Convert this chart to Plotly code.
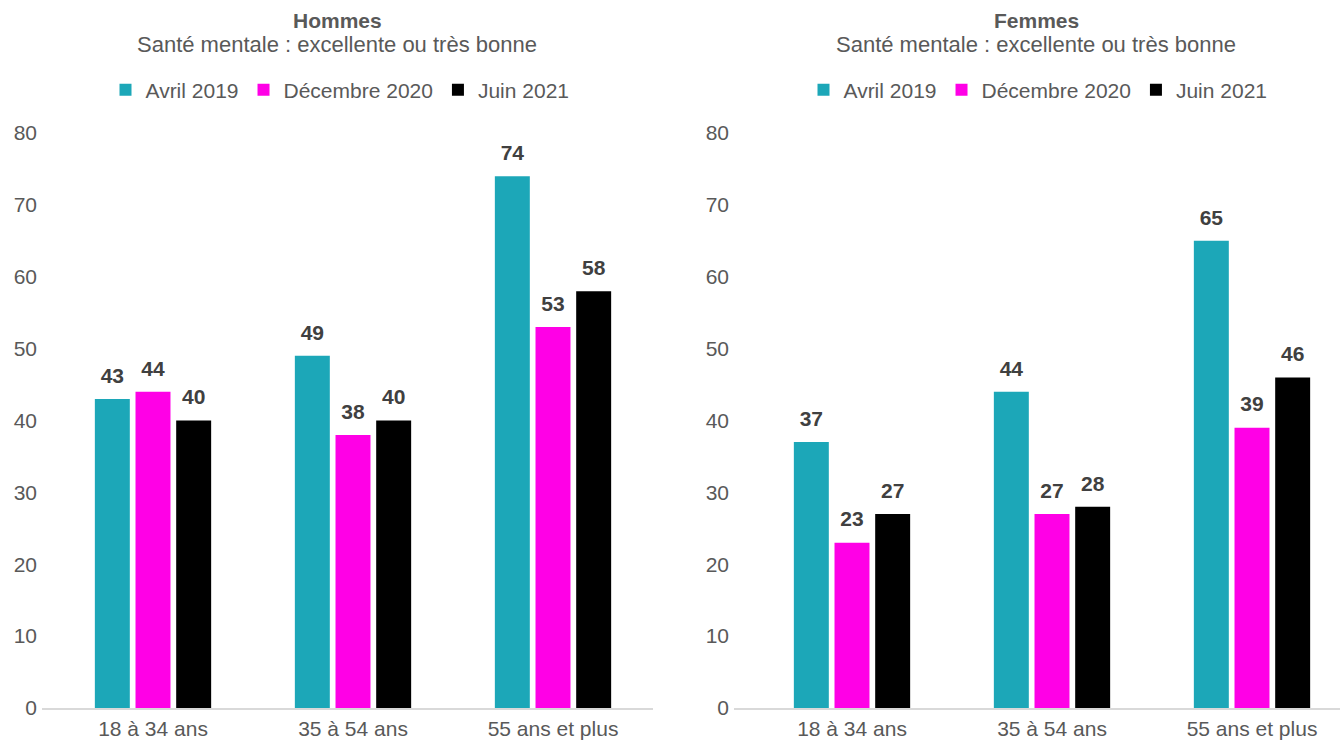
import plotly.graph_objects as go

categories = ["18 à 34 ans", "35 à 54 ans", "55 ans et plus"]
series_names = ["Avril 2019", "Décembre 2020", "Juin 2021"]
hommes = {
    "Avril 2019": [43, 49, 74],
    "Décembre 2020": [44, 38, 53],
    "Juin 2021": [40, 40, 58],
}
femmes = {
    "Avril 2019": [37, 44, 65],
    "Décembre 2020": [23, 27, 39],
    "Juin 2021": [27, 28, 46],
}
colors = {"Avril 2019": "#1CA7B8", "Décembre 2020": "#FF00E6", "Juin 2021": "#000000"}
y_ticks = [0, 10, 20, 30, 40, 50, 60, 70, 80]

W, H = 1340, 741
FONT = "Liberation Sans, Arial, sans-serif"
GREY = "#595959"
FS = 21

fig = go.Figure()
for data, xa, ya, leg in [(hommes, "x", "y", "legend"), (femmes, "x2", "y2", "legend2")]:
    for name in series_names:
        fig.add_trace(go.Bar(
            x=categories, y=data[name], name=name,
            marker=dict(color=colors[name], line=dict(width=0)),
            offsetgroup=name,
            xaxis=xa, yaxis=ya, legend=leg, hoverinfo="x+y+name",
        ))
    for name in series_names:
        fig.add_trace(go.Scatter(
            x=categories, y=data[name], mode="markers+text",
            marker=dict(size=16, opacity=0),
            text=data[name], textposition="top center",
            textfont=dict(family=FONT, size=FS, color="#404040", weight="bold"),
            offsetgroup=name, showlegend=False, hoverinfo="skip",
            cliponaxis=False, xaxis=xa, yaxis=ya,
        ))

ydom = [(H - 708) / H, (H - 133) / H]
axis_common = dict(showgrid=False, zeroline=False, automargin=False,
                   tickfont=dict(family=FONT, size=FS, color=GREY))
leg_common = dict(orientation="h", y=(H - 90) / H, yanchor="middle",
                  font=dict(family=FONT, size=FS, color=GREY), itemwidth=30, tracegroupgap=0)
fig.update_layout(
    width=W, height=H,
    margin=dict(l=0, r=0, t=0, b=0, autoexpand=False),
    paper_bgcolor="white", plot_bgcolor="white",
    barmode="group", bargap=0.39, bargroupgap=0.14,
    scattermode="group", scattergap=0.39,
    font=dict(family=FONT, color=GREY),
    xaxis=dict(domain=[42 / W, 653 / W], range=[-0.555, 2.5], showline=True, linecolor="#D9D9D9",
               linewidth=2, ticks="", ticklabelstandoff=1, **axis_common),
    xaxis2=dict(domain=[734 / W, 1.0], range=[-0.59, 2.44], showline=True, linecolor="#D9D9D9",
                linewidth=2, ticks="", anchor="y2", ticklabelstandoff=1, **axis_common),
    yaxis=dict(domain=ydom, range=[0, 80], tickvals=y_ticks, showline=False, ticks="",
               ticklabelstandoff=4, **axis_common),
    yaxis2=dict(domain=ydom, range=[0, 80], tickvals=y_ticks, showline=False, ticks="",
                anchor="x2", ticklabelstandoff=4, **axis_common),
    legend=dict(x=340 / W, xanchor="center", **leg_common),
    legend2=dict(x=1038 / W, xanchor="center", **leg_common),
    showlegend=True,
)

for cx, title in [(337, "Hommes"), (1036, "Femmes")]:
    fig.add_annotation(x=cx / W, y=(H - 20) / H, xref="paper", yref="paper", text=f"<b>{title}</b>",
                       showarrow=False, xanchor="center", yanchor="middle",
                       font=dict(family=FONT, size=FS, color=GREY))
    fig.add_annotation(x=cx / W, y=(H - 44) / H, xref="paper", yref="paper",
                       text="Santé mentale : excellente ou très bonne",
                       showarrow=False, xanchor="center", yanchor="middle",
                       font=dict(family=FONT, size=FS + 1, color=GREY))

fig.write_html(
    "out.html",
    config={"displayModeBar": False},
    post_script="document.body.style.margin='0';document.body.style.overflow='hidden';",
)
